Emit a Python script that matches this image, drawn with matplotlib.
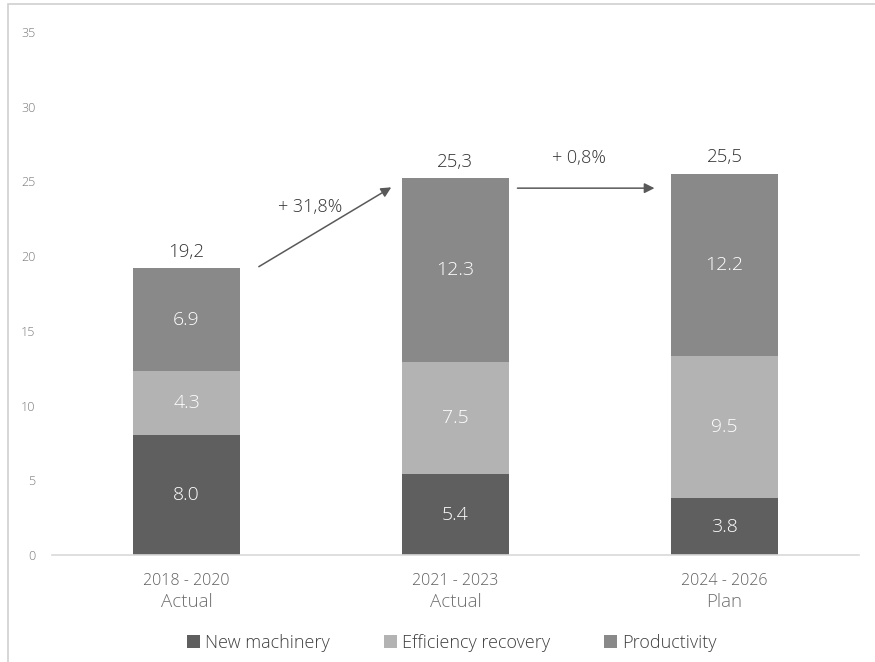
import matplotlib
matplotlib.use("Agg")
import matplotlib.pyplot as plt
from matplotlib.patches import Rectangle
import matplotlib.transforms as mtransforms

plt.rcParams['font.family'] = ['Open Sans', 'DejaVu Sans']
plt.rcParams['font.weight'] = 'light'

periods = ["2018 - 2020", "2021 - 2023", "2024 - 2026"]
period_types = ["Actual", "Actual", "Plan"]
new_machinery = [8.0, 5.4, 3.8]
efficiency_recovery = [4.3, 7.5, 9.5]
productivity = [6.9, 12.3, 12.2]
totals = ["19,2", "25,3", "25,5"]
growth_labels = ["+ 31,8%", "+ 0,8%"]
series_names = ["New machinery", "Efficiency recovery", "Productivity"]
colors = ["#5f5f5f", "#b3b3b3", "#898989"]

fig = plt.figure(figsize=(8.75, 6.62), dpi=100)
fig.patches.append(Rectangle((8/875, -0.1), 1.2, 1.1 - 4/662, transform=fig.transFigure,
                             fill=False, edgecolor="#d0d0d0", linewidth=1.2))
ax = fig.add_axes([52/875, 1-555/662, (859-52)/875, (555-32)/662])

x = list(range(len(periods)))
bottoms = [0.0]*3
series = [new_machinery, efficiency_recovery, productivity]
for vals, name, c in zip(series, series_names, colors):
    ax.bar(x, vals, 0.4, bottom=bottoms, color=c, label=name, zorder=2)
    for xi, v, b in zip(x, vals, bottoms):
        ax.text(xi, b + v/2, f"{v:.1f}", ha="center", va="center", color="white",
                fontsize=14, zorder=3)
    bottoms = [b + v for b, v in zip(bottoms, vals)]

tot_vals = bottoms
for xi, t, tv in zip(x, totals, tot_vals):
    ax.text(xi, tv + 0.5, t, ha="center", va="bottom", color="#333333", fontsize=13.5)

# growth arrows
ax.annotate("", xy=(0.77, 24.7), xytext=(0.26, 19.2),
            arrowprops=dict(arrowstyle="-|>", color="#595959", lw=1.1, mutation_scale=15))
ax.annotate("", xy=(1.75, 24.55), xytext=(1.22, 24.55),
            arrowprops=dict(arrowstyle="-|>", color="#595959", lw=1.1, mutation_scale=15))
ax.text(0.46, 23.3, growth_labels[0], ha="center", va="center", color="#333333", fontsize=13)
ax.text(1.46, 26.6, growth_labels[1], ha="center", va="center", color="#333333", fontsize=13)

ax.set_xlim(-0.5, 2.5)
ax.set_ylim(0, 35)
ax.set_yticks(range(0, 36, 5))
ax.tick_params(axis="y", length=0, labelsize=9, labelcolor="#7a7a7a", pad=12)
ax.set_xticks(x)
ax.set_xticklabels([])
ax.tick_params(axis="x", length=0)
for s in ["top", "right", "left"]:
    ax.spines[s].set_visible(False)
ax.spines["bottom"].set_color("#d9d9d9")
ax.spines["bottom"].set_linewidth(1.2)

trans = mtransforms.blended_transform_factory(ax.transData, fig.transFigure)
for xi, p, t in zip(x, periods, period_types):
    ax.text(xi, 1-581/662, p, ha="center", va="center", color="#5f5f5f", fontsize=11.5,
            transform=trans)
    ax.text(xi, 1-602/662, t, ha="center", va="center", color="#707070", fontsize=13.5,
            transform=trans)

fig.legend(loc="center", bbox_to_anchor=(452/875, 1-643/662), ncol=3, frameon=False,
           fontsize=13, handlelength=0.7, handleheight=0.7, handletextpad=0.3,
           columnspacing=3.0, labelcolor="#404040")

fig.savefig("out.png", dpi=100)
